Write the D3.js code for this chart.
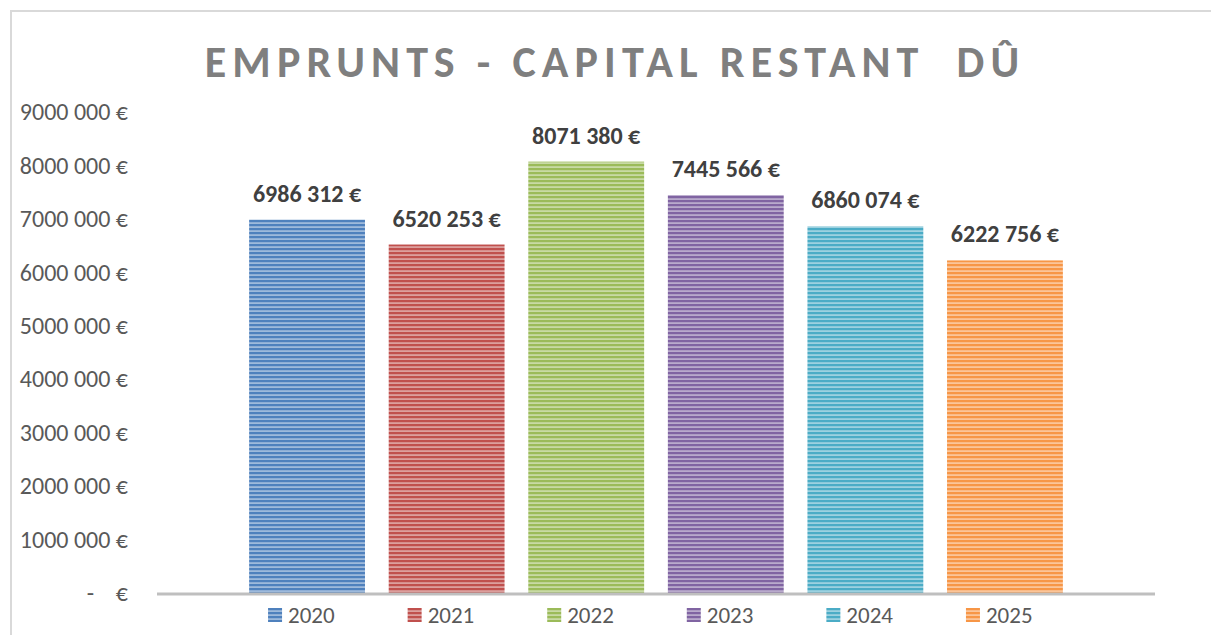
<!DOCTYPE html>
<html>
<head>
<meta charset="utf-8">
<script src="https://cdn.jsdelivr.net/npm/d3@7"></script>
<style>
  body { margin: 0; background: #fff; }
  svg { font-family: Calibri, Carlito, Lato, sans-serif; }
</style>
</head>
<body>
<script>
// chart data
const years = ["2020", "2021", "2022", "2023", "2024", "2025"];
const capital = [6986312, 6520253, 8071380, 7445566, 6860074, 6222756];
const colors = ["#4f81bd", "#c0504d", "#9bbb59", "#8064a2", "#4bacc6", "#f79646"];
const tickValues = [0, 1000000, 2000000, 3000000, 4000000, 5000000, 6000000, 7000000, 8000000, 9000000];
const tickLabels = ["-    €", "1000 000 €", "2000 000 €", "3000 000 €", "4000 000 €",
                    "5000 000 €", "6000 000 €", "7000 000 €", "8000 000 €", "9000 000 €"];

const width = 1211, height = 635;
const plot = { left: 157, right: 1155, top: 112, bottom: 593 };

const svg = d3.select("body").append("svg")
    .attr("width", width)
    .attr("height", height);

// frame
svg.append("path")
    .attr("d", `M11,${height} V11 H${width}`)
    .attr("fill", "none")
    .attr("stroke", "#d9d9d9")
    .attr("stroke-width", 2);

// striped fills
const defs = svg.append("defs");
colors.forEach((c, i) => {
  let p = defs.append("pattern")
      .attr("id", "stripe" + i)
      .attr("patternUnits", "userSpaceOnUse")
      .attr("width", 8).attr("height", 4);
  p.append("rect").attr("width", 8).attr("height", 4)
      .attr("fill", d3.interpolateRgb(c, "#ffffff")(0.45));
  p.append("rect").attr("y", 0).attr("width", 8).attr("height", 2.2)
      .attr("fill", c);
});

let xScale = d3.scaleBand()
    .domain(years)
    .range([plot.left, plot.right])
    .paddingInner(0.17)
    .paddingOuter(0.66);

let yScale = d3.scaleLinear()
    .domain([0, 9000000])
    .range([plot.bottom, plot.top]);

// title
svg.append("text")
    .attr("x", 615)
    .attr("y", 77)
    .attr("text-anchor", "middle")
    .attr("font-size", 44)
    .attr("font-weight", "bold")
    .attr("letter-spacing", 6.1)
    .attr("fill", "#7f7f7f")
    .style("white-space", "pre")
    .text("EMPRUNTS - CAPITAL RESTANT  DÛ");

// y axis labels (no line)
let yAxis = svg.append("g")
    .attr("transform", `translate(${plot.left}, 0)`)
    .call(d3.axisLeft(yScale)
        .tickValues(tickValues)
        .tickSize(0)
        .tickPadding(29)
        .tickFormat((d, i) => tickLabels[i]));
yAxis.select(".domain").remove();
yAxis.selectAll("text")
    .attr("font-size", 24)
    .attr("font-family", "Calibri, Carlito, Lato, sans-serif")
    .attr("fill", "#595959")
    .style("white-space", "pre");

// bars
const rows = years.map((y, i) => ({ year: y, value: capital[i], idx: i }));

svg.selectAll("rect.bar")
    .data(rows)
    .enter()
    .append("rect")
      .attr("class", "bar")
      .attr("x", d => xScale(d.year))
      .attr("y", d => yScale(d.value))
      .attr("width", xScale.bandwidth())
      .attr("height", d => yScale(0) - yScale(d.value))
      .attr("fill", d => `url(#stripe${d.idx})`);

// x baseline
svg.append("line")
    .attr("x1", plot.left).attr("x2", plot.right)
    .attr("y1", yScale(0) + 1).attr("y2", yScale(0) + 1)
    .attr("stroke", "#bfbfbf")
    .attr("stroke-width", 3);

// value labels
const fmt = v => Math.floor(v / 1000) + " " + String(v % 1000).padStart(3, "0") + " €";
svg.selectAll("text.val")
    .data(rows)
    .enter()
    .append("text")
      .attr("class", "val")
      .attr("x", d => xScale(d.year) + xScale.bandwidth() / 2)
      .attr("y", d => yScale(d.value) - 18)
      .attr("text-anchor", "middle")
      .attr("font-size", 24)
      .attr("font-weight", "bold")
      .attr("fill", "#404040")
      .text(d => fmt(d.value));

// legend
let legend = svg.selectAll("g.leg")
    .data(rows)
    .enter()
    .append("g")
      .attr("class", "leg")
      .attr("transform", d => `translate(${xScale(d.year) + xScale.bandwidth() / 2 - 39}, 608)`);
legend.append("rect")
    .attr("width", 14).attr("height", 14)
    .attr("fill", d => `url(#stripe${d.idx})`);
legend.append("text")
    .attr("x", 20).attr("y", 15)
    .attr("font-size", 23)
    .attr("fill", "#595959")
    .text(d => d.year);
</script>
</body>
</html>
